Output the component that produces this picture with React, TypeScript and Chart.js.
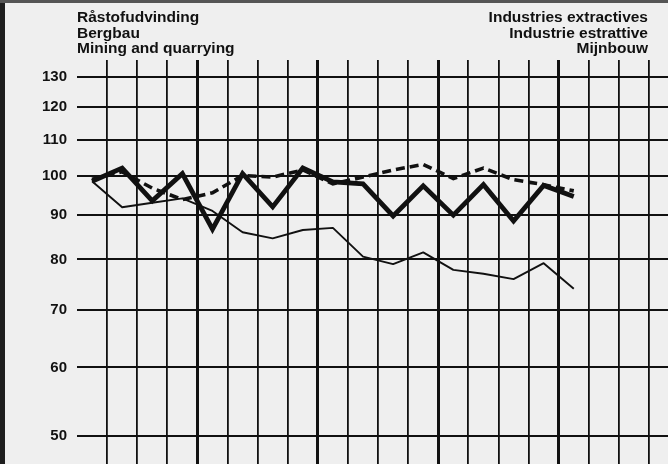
import { useEffect, useRef } from 'react';
import { Chart, registerables } from 'chart.js';

Chart.register(...registerables);

// Index values (log scale), one per period
const thickSeries = [98.5, 102, 93.5, 100.5, 86.7, 100.5, 92, 102, 98.3, 97.8, 89.8, 97.3, 90, 97.6, 88.6, 97.4, 94.6];
const dashedSeries = [99, 101, 96.7, 93.8, 95.5, 100, 99.6, 101.5, 97.8, 99.6, 101.5, 103, 99.2, 102, 98.9, 97.6, 96];
const thinSeries = [98.5, 91.9, 93.0, 94.1, 91.0, 86.0, 84.6, 86.5, 87.0, 80.6, 79.0, 81.5, 77.8, 77.0, 75.9, 79.2, 74.0];

const yTicks = [50, 60, 70, 80, 90, 100, 110, 120, 130];
const xGridTicks = [0, 1, 2, 3, 4, 5, 6, 7, 8, 9, 10, 11, 12, 13, 14, 15, 16, 17, 18];
const thickGridTicks = [3, 7, 11, 15];

const titleLeft = ['Råstofudvinding', 'Bergbau', 'Mining and quarrying'];
const titleRight = ['Industries extractives', 'Industrie estrattive', 'Mijnbouw'];

const FONT = '"Liberation Sans", Arial, Helvetica, sans-serif';
const INK = '#111111';

const toPoints = (arr: number[]) => arr.map((v, i) => ({ x: i - 0.5, y: v }));

export default function App() {
  const canvasRef = useRef<HTMLCanvasElement | null>(null);

  useEffect(() => {
    if (!canvasRef.current) return;
    const chart = new Chart(canvasRef.current, {
      type: 'line',
      data: {
        datasets: [
          {
            data: toPoints(thinSeries),
            borderColor: INK,
            borderWidth: 1.9,
            pointRadius: 0,
            tension: 0,
            borderJoinStyle: 'round',
          },
          {
            data: toPoints(dashedSeries),
            borderColor: INK,
            borderWidth: 3.6,
            borderDash: [9, 5],
            pointRadius: 0,
            tension: 0,
          },
          {
            data: toPoints(thickSeries),
            borderColor: INK,
            borderWidth: 4.8,
            pointRadius: 0,
            tension: 0,
            borderJoinStyle: 'miter',
          },
        ],
      },
      options: {
        animation: false,
        responsive: false,
        maintainAspectRatio: false,
        devicePixelRatio: 1,
        layout: { padding: { top: 60, left: 0, right: 0, bottom: 0 } },
        plugins: {
          legend: { display: false },
          tooltip: { enabled: false },
        },
        scales: {
          x: {
            type: 'linear',
            min: -1,
            max: 18.63,
            afterBuildTicks: (scale: any) => {
              scale.ticks = xGridTicks.map((v) => ({ value: v }));
            },
            afterFit: (scale: any) => {
              scale.height = 0;
              scale.paddingLeft = 0;
              scale.paddingRight = 0;
            },
            ticks: { display: false },
            border: { display: false },
            grid: {
              color: INK,
              drawTicks: false,
              lineWidth: (ctx: any) => (thickGridTicks.includes(ctx.tick?.value) ? 3 : 1.8),
            },
          },
          y: {
            type: 'logarithmic',
            min: 46.41,
            max: 136.0,
            afterBuildTicks: (scale: any) => {
              scale.ticks = yTicks.map((v) => ({ value: v }));
            },
            afterFit: (scale: any) => {
              scale.width = 77;
              scale.paddingTop = 0;
              scale.paddingBottom = 0;
            },
            border: { display: false },
            grid: { color: INK, lineWidth: 2, drawTicks: false },
            ticks: {
              autoSkip: false,
              padding: 10,
              color: INK,
              font: { family: FONT, size: 15, weight: 'bold' },
              callback: (value: any) => String(value),
            },
          },
        },
      },
    });
    return () => chart.destroy();
  }, []);

  const titleStyle: React.CSSProperties = {
    position: 'absolute',
    top: 9,
    fontFamily: FONT,
    fontWeight: 'bold',
    fontSize: 15.5,
    lineHeight: '15.5px',
    color: INK,
    whiteSpace: 'nowrap',
  };

  return (
    <div
      style={{
        position: 'fixed',
        left: 0,
        top: 0,
        width: 668,
        height: 464,
        background: '#efefef',
        overflow: 'hidden',
      }}
    >
      <canvas ref={canvasRef} width={668} height={464} style={{ display: 'block', width: 668, height: 464 }} />
      <div style={{ ...titleStyle, left: 77, textAlign: 'left' }}>
        {titleLeft.map((t) => (
          <div key={t}>{t}</div>
        ))}
      </div>
      <div style={{ ...titleStyle, right: 20, textAlign: 'right' }}>
        {titleRight.map((t) => (
          <div key={t}>{t}</div>
        ))}
      </div>
      <div style={{ position: 'absolute', left: 0, top: 0, width: 5, height: 464, background: '#1e1e1e' }} />
      <div style={{ position: 'absolute', left: 0, top: 0, width: 668, height: 3, background: '#555' }} />
    </div>
  );
}
